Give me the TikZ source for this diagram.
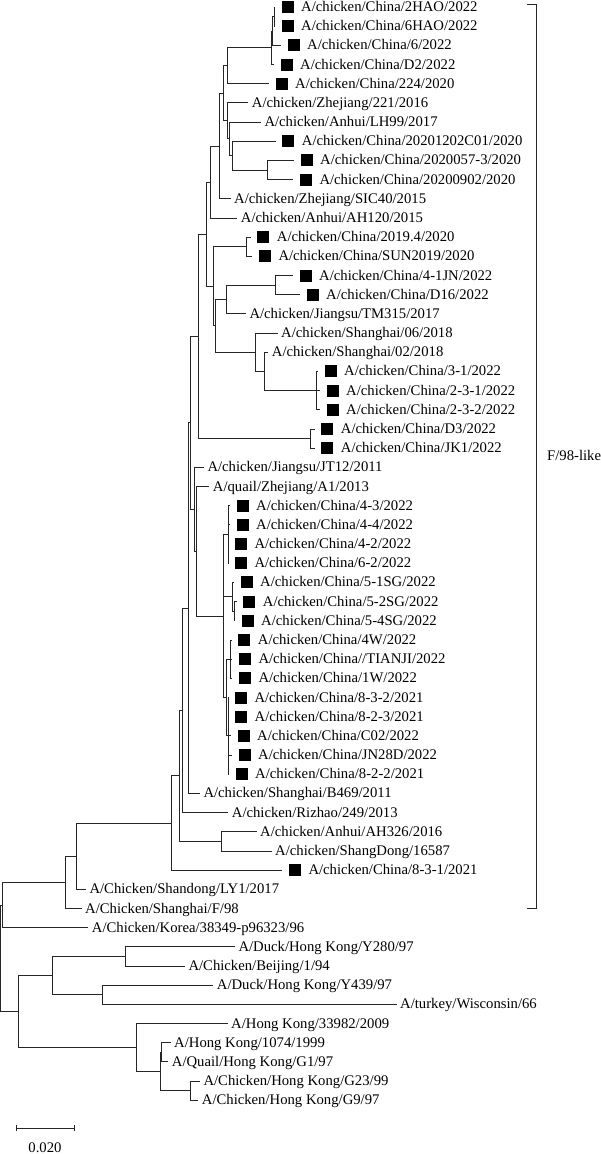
\documentclass[tikz,border=0pt]{standalone}
\usepackage{fontspec}
\setmainfont{Liberation Serif}
\usetikzlibrary{calc}
\tikzset{
 br/.style={draw=black!85, line width=0.9pt},
 lab/.style={anchor=base west, inner sep=0pt, font=\fontsize{14.7}{16}\selectfont},
 sqm/.style={fill=black, minimum size=12pt, inner sep=0pt, draw=none, anchor=center},
}
\newcommand\lfn[4]{\coordinate (#1) at ({#3-3.5},#2); \node[lab] (#1t) at (#3,{#2+4.5}) {#4};}
\newcommand\lfs[4]{\coordinate (#1) at ({#3-26},#2); \node[sqm] (#1s) at ({#3-13.5},#2) {}; \node[lab] (#1t) at (#3,{#2+4.5}) {#4};}
\newcommand\mknode[4]{%
 \path let \p1=($(#3)!0.5!(#4)$) in coordinate (#1) at (#2pt,\y1);
 \draw[br] (#3) -- (#1 |- #3) -- (#1 |- #4) -- (#4);}
\newcommand\mkpoly[5]{%
 \path let \p1=($(#3)!0.5!(#4)$) in coordinate (#1) at (#2pt,\y1);
 \draw[br] (#3) -- (#1 |- #3) -- (#1 |- #4) -- (#4);
 \foreach \c in {#5} {\draw[br] (#1 |- \c) -- (\c);}}
\begin{document}
\begin{tikzpicture}[x=1pt,y=-1pt]
\useasboundingbox (0,0) rectangle (600,1154);
% leaves
\lfs{l1}{7.0}{301}{A/chicken/China/2HAO/2022}
\lfs{l2}{26.2}{301}{A/chicken/China/6HAO/2022}
\lfs{l3}{45.4}{307}{A/chicken/China/6/2022}
\lfs{l4}{64.5}{300}{A/chicken/China/D2/2022}
\lfs{l5}{83.7}{295}{A/chicken/China/224/2020}
\lfn{l6}{102.9}{251.7}{A/chicken/Zhejiang/221/2016}
\lfn{l7}{122.1}{264.3}{A/chicken/Anhui/LH99/2017}
\lfs{l8}{141.3}{301.7}{A/chicken/China/20201202C01/2020}
\lfs{l9}{160.4}{320}{A/chicken/China/2020057-3/2020}
\lfs{l10}{179.6}{319.3}{A/chicken/China/20200902/2020}
\lfn{l11}{198.8}{234}{A/chicken/Zhejiang/SIC40/2015}
\lfn{l12}{218.0}{240.7}{A/chicken/Anhui/AH120/2015}
\lfs{l13}{237.2}{276.7}{A/chicken/China/2019.4/2020}
\lfs{l14}{256.3}{278.3}{A/chicken/China/SUN2019/2020}
\lfs{l15}{275.5}{319}{A/chicken/China/4-1JN/2022}
\lfs{l16}{294.7}{326}{A/chicken/China/D16/2022}
\lfn{l17}{313.9}{249.3}{A/chicken/Jiangsu/TM315/2017}
\lfn{l18}{333.1}{281}{A/chicken/Shanghai/06/2018}
\lfn{l19}{352.2}{271.7}{A/chicken/Shanghai/02/2018}
\lfs{l20}{371.4}{344}{A/chicken/China/3-1/2022}
\lfs{l21}{390.6}{346}{A/chicken/China/2-3-1/2022}
\lfs{l22}{409.8}{346}{A/chicken/China/2-3-2/2022}
\lfs{l23}{429.0}{340.7}{A/chicken/China/D3/2022}
\lfs{l24}{448.1}{340.7}{A/chicken/China/JK1/2022}
\lfn{l25}{467.3}{207.3}{A/chicken/Jiangsu/JT12/2011}
\lfn{l26}{486.5}{212.7}{A/quail/Zhejiang/A1/2013}
\lfs{l27}{505.7}{256}{A/chicken/China/4-3/2022}
\lfs{l28}{524.9}{256}{A/chicken/China/4-4/2022}
\lfs{l29}{544.0}{254.3}{A/chicken/China/4-2/2022}
\lfs{l30}{563.2}{254.3}{A/chicken/China/6-2/2022}
\lfs{l31}{582.4}{260}{A/chicken/China/5-1SG/2022}
\lfs{l32}{601.6}{262.7}{A/chicken/China/5-2SG/2022}
\lfs{l33}{620.8}{261}{A/chicken/China/5-4SG/2022}
\lfs{l34}{640.0}{257.7}{A/chicken/China/4W/2022}
\lfs{l35}{659.1}{258.3}{A/chicken/China//TIANJI/2022}
\lfs{l36}{678.3}{258.3}{A/chicken/China/1W/2022}
\lfs{l37}{697.5}{254.3}{A/chicken/China/8-3-2/2021}
\lfs{l38}{716.7}{254.5}{A/chicken/China/8-2-3/2021}
\lfs{l39}{735.9}{257}{A/chicken/China/C02/2022}
\lfs{l40}{755.0}{258}{A/chicken/China/JN28D/2022}
\lfs{l41}{774.2}{255}{A/chicken/China/8-2-2/2021}
\lfn{l42}{793.4}{203.3}{A/chicken/Shanghai/B469/2011}
\lfn{l43}{812.6}{231.7}{A/chicken/Rizhao/249/2013}
\lfn{l44}{831.8}{260}{A/chicken/Anhui/AH326/2016}
\lfn{l45}{851.0}{275}{A/chicken/ShangDong/16587}
\lfs{l46}{870.1}{308.3}{A/chicken/China/8-3-1/2021}
\lfn{l47}{889.3}{89.3}{A/Chicken/Shandong/LY1/2017}
\lfn{l48}{908.5}{85}{A/Chicken/Shanghai/F/98}
\lfn{l49}{927.7}{91.7}{A/Chicken/Korea/38349-p96323/96}
\lfn{l50}{946.8}{238.3}{A/Duck/Hong Kong/Y280/97}
\lfn{l51}{966.0}{188.3}{A/Chicken/Beijing/1/94}
\lfn{l52}{985.2}{216.7}{A/Duck/Hong Kong/Y439/97}
\lfn{l53}{1004.4}{400}{A/turkey/Wisconsin/66}
\lfn{l54}{1023.6}{231}{A/Hong Kong/33982/2009}
\lfn{l55}{1042.8}{174}{A/Hong Kong/1074/1999}
\lfn{l56}{1061.9}{171.7}{A/Quail/Hong Kong/G1/97}
\lfn{l57}{1081.1}{203.3}{A/Chicken/Hong Kong/G23/99}
\lfn{l58}{1100.3}{201.7}{A/Chicken/Hong Kong/G9/97}
% internal nodes
\mknode{n12}{274}{l1}{l2}
\mknode{n123}{272.5}{n12}{l3}
\mknode{n1234}{271}{n123}{l4}
\mknode{nA}{227.5}{n1234}{l5}
\mknode{nD4}{267.7}{l9}{l10}
\mknode{nD3}{232.7}{l8}{nD4}
\mknode{nD2}{229}{l7}{nD3}
\mknode{nD}{227}{l6}{nD2}
\mknode{nC}{223.3}{nA}{nD}
\mknode{nF}{219}{nC}{l11}
\mknode{nG}{210}{nF}{l12}
\mknode{nJ}{246}{l13}{l14}
\mknode{nN}{275}{l15}{l16}
\mknode{nL}{226.7}{nN}{l17}
\mkpoly{nP}{316.7}{l20}{l22}{l21}
\mknode{nO}{264.3}{l19}{nP}
\mknode{nM}{255}{l18}{nO}
\mknode{nK}{215}{nL}{nM}
\mknode{nI}{213}{nJ}{nK}
\mknode{nH}{206}{nG}{nI}
\mknode{nR}{310.7}{l23}{l24}
\mknode{nQ}{198}{nH}{nR}
\mkpoly{nU1}{228}{l27}{l30}{l28,l29}
\mknode{nU2b}{234}{l32}{l33}
\mknode{nU2}{232}{l31}{nU2b}
\mkpoly{nV1}{230.5}{l34}{l36}{l35}
\mkpoly{nV2}{228}{l37}{l41}{l38,l39,l40}
\mknode{nU3}{226.5}{nV1}{nV2}
\mkpoly{nT}{223}{nU1}{nU3}{nU2}
\mknode{nS3}{196.5}{l26}{nT}
\mknode{nS2}{194.5}{l25}{nS3}
\mknode{nS}{190.5}{nQ}{nS2}
\mknode{nAC}{188}{nS}{l42}
\mknode{nAA}{182}{nAC}{l43}
\mknode{nAB}{221.7}{l44}{l45}
\mknode{nZ}{179.3}{nAA}{nAB}
\mknode{nY}{171.7}{nZ}{l46}
\mknode{nX}{76}{nY}{l47}
\mknode{nW}{65.7}{nX}{l48}
\mknode{nWW}{2.7}{nW}{l49}
\mknode{nOGa}{125}{l50}{l51}
\mknode{nOGb}{102.7}{l52}{l53}
\mknode{nOG1}{52.3}{nOGa}{nOGb}
\mknode{nOGc}{161.7}{l55}{l56}
\mknode{nOGd}{190}{l57}{l58}
\mknode{nOG2b}{160}{nOGc}{nOGd}
\mknode{nOG2}{136.7}{l54}{nOG2b}
\mknode{nOG}{18.3}{nOG1}{nOG2}
\mknode{root}{0.7}{nWW}{nOG}
% bracket
\coordinate (bt) at (526.7,4);
\coordinate (bb) at (526.7,908);
\coordinate (bx) at (536,0);
\draw[br] (bt) -- (bt -| bx) -- (bb -| bx) -- (bb);
\node[lab] (blab) at (547,{456+4.5}) {F/98-like};
% scale bar
\coordinate (s1) at (16,1128);
\coordinate (s2) at (74,1128);
\draw[br] (s1) -- (s2);
\draw[br] ([yshift=3pt]s1) -- ([yshift=-3pt]s1);
\draw[br] ([yshift=3pt]s2) -- ([yshift=-3pt]s2);
\node[lab, anchor=base] (slab) at (45,{1148+4.5}) {0.020};
\end{tikzpicture}
\end{document}
